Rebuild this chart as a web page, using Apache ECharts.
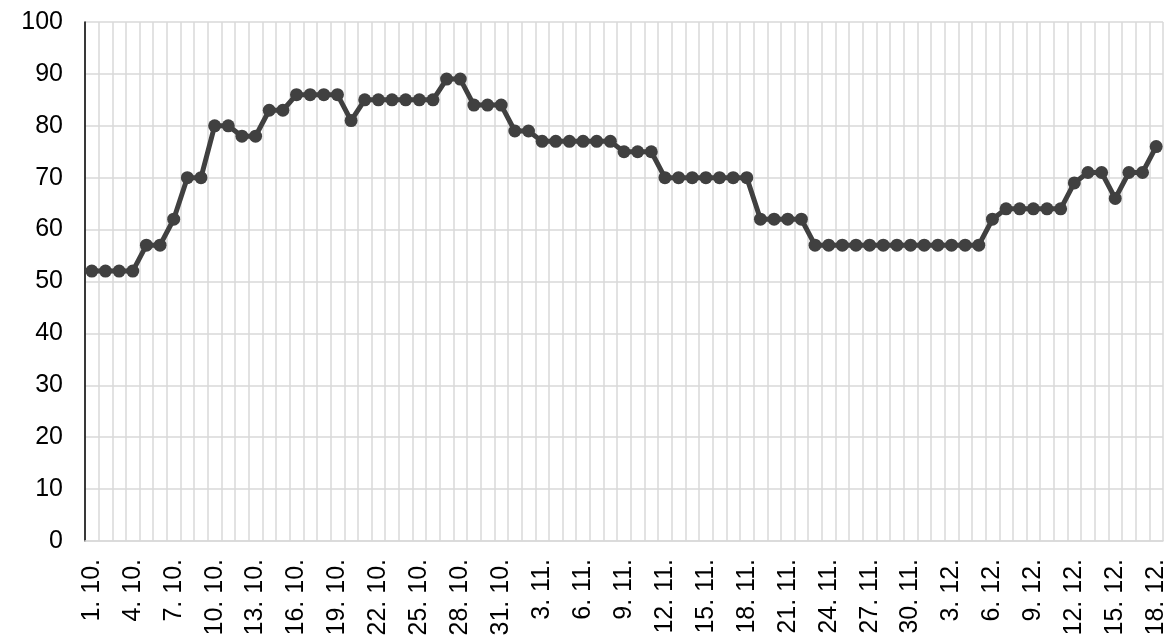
<!DOCTYPE html>
<html>
<head>
<meta charset="utf-8">
<script src="https://cdn.jsdelivr.net/npm/echarts@6/dist/echarts.min.js"></script>
<style>html,body{margin:0;padding:0;background:#fff;}#c{width:1170px;height:643px;}</style>
</head>
<body>
<div id="c"></div>
<script>
// Dates 1.10. – 18.12.
const monthDays = [[10, 31], [11, 30], [12, 18]];
const categories = [];
monthDays.forEach(function (m) { for (let d = 1; d <= m[1]; d++) categories.push(d + '. ' + m[0] + '.'); });

const octValues = [52,52,52,52,57,57,62,70,70,80,80,78,78,83,83,86,86,86,86,81,85,85,85,85,85,85,89,89,84,84,84];
const novValues = [79,79,77,77,77,77,77,77,75,75,75,70,70,70,70,70,70,70,62,62,62,62,57,57,57,57,57,57,57,57];
const decValues = [57,57,57,57,57,62,64,64,64,64,64,69,71,71,66,71,71,76];
const values = octValues.concat(novValues, decValues);

const yTicks = [0,10,20,30,40,50,60,70,80,90,100];

const chart = echarts.init(document.getElementById('c'), null, {renderer: 'canvas'});
chart.setOption({
  animation: false,
  backgroundColor: '#ffffff',
  grid: {left: 85, right: 7, top: 22, bottom: 102, containLabel: false},
  xAxis: {
    type: 'category',
    data: categories,
    boundaryGap: true,
    axisLine: {show: true, lineStyle: {color: '#d9d9d9', width: 1.5}},
    axisTick: {show: false},
    splitLine: {show: true, interval: 0, lineStyle: {color: '#d9d9d9', width: 1.5}},
    axisLabel: {interval: 2, rotate: 90, margin: 18, color: '#000', fontFamily: 'Liberation Sans, Arial', fontSize: 25}
  },
  yAxis: {
    type: 'value',
    min: yTicks[0],
    max: yTicks[yTicks.length - 1],
    interval: 10,
    axisLine: {show: true, lineStyle: {color: '#000', width: 1.5}},
    axisTick: {show: false},
    splitLine: {show: true, lineStyle: {color: '#d9d9d9', width: 1.5}},
    axisLabel: {margin: 22, color: '#000', fontFamily: 'Liberation Sans, Arial', fontSize: 25}
  },
  series: [{
    type: 'line',
    data: values,
    symbol: 'circle',
    symbolSize: 13,
    showSymbol: true,
    showAllSymbol: true,
    lineStyle: {color: '#404040', width: 5},
    itemStyle: {color: '#404040'},
    z: 5
  }]
});
</script>
</body>
</html>
